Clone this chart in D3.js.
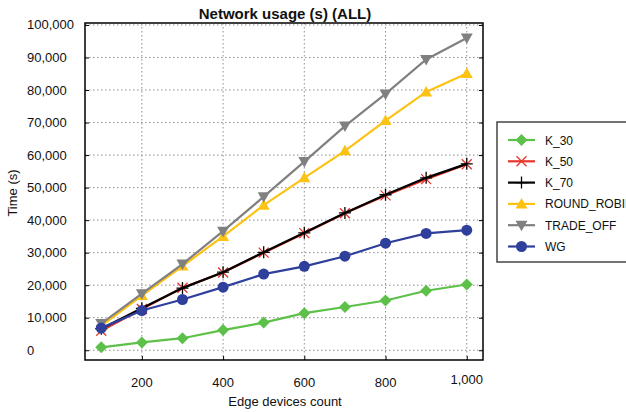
<!DOCTYPE html>
<html>
<head>
<meta charset="utf-8">
<script src="https://cdn.jsdelivr.net/npm/d3@7"></script>
<style>
  body { margin: 0; background: #fff; }
  text { font-family: "Liberation Sans", Arial, sans-serif; fill: #111; }
</style>
</head>
<body>
<div id="chart"></div>
<script>
// edge device counts on the x axis
var devices = [100, 200, 300, 400, 500, 600, 700, 800, 900, 1000];

// network usage time (s) per policy
var k30        = [900, 2400, 3700, 6200, 8500, 11400, 13300, 15300, 18300, 20200];
var k50        = [6000, 12700, 19200, 23900, 30000, 36000, 42100, 47600, 52600, 57200];
var k70        = [6600, 12900, 19100, 24000, 30100, 36100, 42200, 47800, 53000, 57300];
var roundRobin = [7500, 16800, 25900, 35000, 44600, 53000, 61300, 70600, 79400, 85100];
var tradeOff   = [8200, 17400, 26500, 36600, 47200, 58000, 68900, 78800, 89400, 96000];
var wg         = [6800, 12200, 15600, 19400, 23400, 25800, 28900, 32900, 35900, 36900];

var seriesNames = ["K_30", "K_50", "K_70", "ROUND_ROBIN", "TRADE_OFF", "WG"];
var xTicks = [200, 400, 600, 800, 1000];
var yTicks = [0, 10000, 20000, 30000, 40000, 50000, 60000, 70000, 80000, 90000, 100000];

var series = [
  {name: seriesNames[0], values: k30, color: "#5cc049", marker: "diamond"},
  {name: seriesNames[1], values: k50, color: "#e8352b", marker: "cross"},
  {name: seriesNames[2], values: k70, color: "#000000", marker: "plus"},
  {name: seriesNames[3], values: roundRobin, color: "#fcc214", marker: "triUp"},
  {name: seriesNames[4], values: tradeOff, color: "#808080", marker: "triDown"},
  {name: seriesNames[5], values: wg, color: "#2e3f9c", marker: "circle"}
];

var W = 626, H = 412;
var svg = d3.select("#chart").append("svg").attr("width", W).attr("height", H);

var pL = 85, pR = 483, pT = 23, pB = 360;
var x = d3.scaleLinear().domain([60, 1040]).range([pL, pR]);
var y = d3.scaleLinear().domain([-3000, 100600]).range([pB, pT]);
var fmt = d3.format(",");

// dotted grid
svg.append("g").selectAll("line").data(xTicks).join("line")
  .attr("x1", d => x(d)).attr("x2", d => x(d)).attr("y1", pT).attr("y2", pB)
  .attr("stroke", "#8c8c8c").attr("stroke-width", 1).attr("stroke-dasharray", "1.5,2.5");
svg.append("g").selectAll("line").data(yTicks).join("line")
  .attr("x1", pL).attr("x2", pR).attr("y1", d => y(d)).attr("y2", d => y(d))
  .attr("stroke", "#8c8c8c").attr("stroke-width", 1).attr("stroke-dasharray", "1.5,2.5");

// inward ticks
var ya = svg.append("g").attr("transform", "translate(" + pL + ",0)")
  .call(d3.axisRight(y).tickValues(yTicks).tickSize(4).tickFormat(""));
var yb = svg.append("g").attr("transform", "translate(" + pR + ",0)")
  .call(d3.axisLeft(y).tickValues(yTicks).tickSize(4).tickFormat(""));
var xa = svg.append("g").attr("transform", "translate(0," + pB + ")")
  .call(d3.axisTop(x).tickValues(xTicks).tickSize(4).tickFormat(""));
[ya, yb, xa].forEach(function(g) {
  g.select(".domain").remove();
  g.selectAll("line").attr("stroke", "#000");
});

// tick labels
svg.append("g").selectAll("text").data(yTicks).join("text")
  .attr("x", 27).attr("y", d => y(d) + 4.5)
  .style("font-size", "13px").text(d => fmt(d));
svg.append("g").selectAll("text").data(xTicks).join("text")
  .attr("x", d => x(d)).attr("y", d => d == 1000 ? 384 : 386.5)
  .attr("text-anchor", "middle").style("font-size", "13px").text(d => fmt(d));

// frame
svg.append("rect").attr("x", pL).attr("y", pT)
  .attr("width", pR - pL).attr("height", pB - pT)
  .attr("fill", "none").attr("stroke", "#000").attr("stroke-width", 1.5);

// titles
svg.append("text").attr("x", 285).attr("y", 18.5)
  .attr("text-anchor", "middle").style("font-size", "15px").style("font-weight", "bold")
  .text("Network usage (s) (ALL)");
svg.append("text").attr("x", 285).attr("y", 406)
  .attr("text-anchor", "middle").style("font-size", "13px").text("Edge devices count");
svg.append("text").attr("transform", "translate(17,193) rotate(-90)")
  .attr("text-anchor", "middle").style("font-size", "13px").text("Time (s)");

function drawMarker(g, type, cx, cy, color) {
  if (type == "diamond") {
    g.append("path").attr("d", "M" + cx + "," + (cy - 6) + "L" + (cx + 6) + "," + cy + "L" + cx + "," + (cy + 6) + "L" + (cx - 6) + "," + cy + "Z")
      .attr("fill", color);
  } else if (type == "circle") {
    g.append("circle").attr("cx", cx).attr("cy", cy).attr("r", 5.5).attr("fill", color);
  } else if (type == "triUp") {
    g.append("path").attr("d", "M" + cx + "," + (cy - 6) + "L" + (cx + 6) + "," + (cy + 4.5) + "L" + (cx - 6) + "," + (cy + 4.5) + "Z")
      .attr("fill", color);
  } else if (type == "triDown") {
    g.append("path").attr("d", "M" + cx + "," + (cy + 6) + "L" + (cx + 6) + "," + (cy - 4.5) + "L" + (cx - 6) + "," + (cy - 4.5) + "Z")
      .attr("fill", color);
  } else if (type == "cross") {
    g.append("path").attr("d", "M" + (cx - 5) + "," + (cy - 5) + "L" + (cx + 5) + "," + (cy + 5) + "M" + (cx - 5) + "," + (cy + 5) + "L" + (cx + 5) + "," + (cy - 5))
      .attr("stroke", color).attr("stroke-width", 1.3).attr("fill", "none");
  } else if (type == "plus") {
    g.append("path").attr("d", "M" + (cx - 6) + "," + cy + "L" + (cx + 6) + "," + cy + "M" + cx + "," + (cy - 6) + "L" + cx + "," + (cy + 6))
      .attr("stroke", color).attr("stroke-width", 1.3).attr("fill", "none");
  }
}

var line = d3.line().x((d, i) => x(devices[i])).y(d => y(d));

series.forEach(function(s) {
  var g = svg.append("g");
  g.append("path").attr("d", line(s.values)).attr("fill", "none")
    .attr("stroke", s.color).attr("stroke-width", 2.2);
  s.values.forEach(function(v, i) {
    drawMarker(g, s.marker, x(devices[i]), y(v), s.color);
  });
});

// legend (box runs past the right edge, as in the original)
var lg = svg.append("g");
lg.append("rect").attr("x", 497).attr("y", 122).attr("width", 140).attr("height", 140)
  .attr("fill", "#fff").attr("stroke", "#444").attr("stroke-width", 1.5);
series.forEach(function(s, i) {
  var ly = 140 + i * 21.3;
  lg.append("line").attr("x1", 508).attr("x2", 535).attr("y1", ly).attr("y2", ly)
    .attr("stroke", s.color).attr("stroke-width", 2.2);
  drawMarker(lg, s.marker, 521.5, ly, s.color);
  lg.append("text").attr("x", 545).attr("y", ly + 4.5).style("font-size", "12px").text(s.name);
});
</script>
</body>
</html>
